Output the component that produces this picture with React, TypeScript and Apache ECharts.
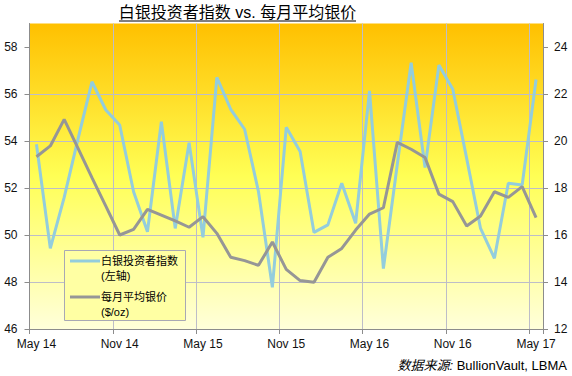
import React, { useEffect, useRef } from "react";
import * as echarts from "echarts";

const categories = [
  "May 14", "Jun 14", "Jul 14", "Aug 14", "Sep 14", "Oct 14",
  "Nov 14", "Dec 14", "Jan 15", "Feb 15", "Mar 15", "Apr 15",
  "May 15", "Jun 15", "Jul 15", "Aug 15", "Sep 15", "Oct 15",
  "Nov 15", "Dec 15", "Jan 16", "Feb 16", "Mar 16", "Apr 16",
  "May 16", "Jun 16", "Jul 16", "Aug 16", "Sep 16", "Oct 16",
  "Nov 16", "Dec 16", "Jan 17", "Feb 17", "Mar 17", "Apr 17",
  "May 17",
];

const investorIndex = [
  53.86, 49.43, 51.6, 54.1, 56.52, 55.32, 54.68, 51.84, 50.14, 54.82,
  50.28, 53.93, 49.9, 56.71, 55.35, 54.5, 51.84, 47.77, 54.58, 53.55,
  50.11, 50.43, 52.2, 50.5, 56.13, 48.57, 53.0, 57.33, 52.87, 57.23,
  56.2, 53.26, 50.28, 49.01, 52.2, 52.13, 56.62,
];

const silverPrice = [
  19.33, 19.79, 20.92, 19.69, 18.44, 17.23, 16.0, 16.24, 17.09, 16.85,
  16.6, 16.33, 16.78, 16.07, 15.05, 14.91, 14.71, 15.7, 14.54, 14.06,
  13.99, 15.05, 15.43, 16.21, 16.89, 17.16, 19.94, 19.65, 19.3, 17.74,
  17.42, 16.38, 16.81, 17.84, 17.6, 18.06, 16.74,
];

const leftTicks = [46, 48, 50, 52, 54, 56, 58];
const rightTicks = [12, 14, 16, 18, 20, 22, 24];

const titleText = "白银投资者指数 vs. 每月平均银价";
const seriesNames = ["白银投资者指数", "每月平均银价"];
const seriesSubNames = ["(左轴)", "($/oz)"];
const sourceCn = "数据来源:";
const sourceEn = " BullionVault, LBMA";

const FONT = "'Liberation Sans', Arial, 'Noto Sans CJK SC', sans-serif";
const BLUE = "#93CDDD";
const GRAY = "#969696";
const GRID = "#BDBDC8";
const AXIS = "#8C8C8C";

export default function App() {
  const ref = useRef<HTMLDivElement>(null);

  useEffect(() => {
    if (!ref.current) return;
    const chart = echarts.init(ref.current, undefined, { renderer: "svg" });

    chart.setOption({
      animation: false,
      backgroundColor: "#ffffff",
      textStyle: { fontFamily: FONT },
      grid: {
        left: 29.5,
        right: 29,
        top: 23.5,
        bottom: 47,
        show: true,
        borderWidth: 0,
        backgroundColor: new echarts.graphic.LinearGradient(0, 0, 0, 1, [
          { offset: 0, color: "#FFC000" },
          { offset: 0.5, color: "#FFFF55" },
          { offset: 1, color: "#FFFFDA" },
        ]),
      },
      xAxis: {
        type: "category",
        data: categories,
        boundaryGap: true,
        axisLine: { show: true, lineStyle: { color: AXIS, width: 1 } },
        axisTick: {
          show: true,
          interval: 5,
          length: 5,
          alignWithLabel: false,
          lineStyle: { color: AXIS },
        },
        axisLabel: {
          interval: 5,
          margin: 9,
          color: "#111",
          fontSize: 12,
          fontFamily: FONT,
        },
        splitLine: {
          show: true,
          interval: 5,
          lineStyle: { color: GRID, width: 1 },
        },
      },
      yAxis: [
        {
          type: "value",
          min: 46,
          max: 59,
          interval: 2,
          position: "left",
          axisLine: { show: true, lineStyle: { color: AXIS } },
          axisTick: {
            show: true,
            length: 5,
            customValues: leftTicks,
            lineStyle: { color: AXIS },
          },
          axisLabel: {
            customValues: leftTicks,
            margin: 12,
            color: "#111",
            fontSize: 12,
            fontFamily: FONT,
          },
          splitLine: {
            show: true,
            showMaxLine: false,
            lineStyle: { color: GRID, width: 1 },
          },
        },
        {
          type: "value",
          min: 12,
          max: 25,
          interval: 2,
          position: "right",
          axisLine: { show: true, lineStyle: { color: AXIS } },
          axisTick: {
            show: true,
            length: 5,
            customValues: rightTicks,
            lineStyle: { color: AXIS },
          },
          axisLabel: {
            customValues: rightTicks,
            margin: 11,
            color: "#111",
            fontSize: 12,
            fontFamily: FONT,
          },
          splitLine: { show: false },
        },
      ],
      series: [
        {
          name: seriesNames[0],
          type: "line",
          yAxisIndex: 0,
          data: investorIndex,
          symbol: "none",
          lineStyle: { color: BLUE, width: 3 },
          itemStyle: { color: BLUE },
          z: 2,
        },
        {
          name: seriesNames[1],
          type: "line",
          yAxisIndex: 1,
          data: silverPrice,
          symbol: "none",
          lineStyle: { color: GRAY, width: 3 },
          itemStyle: { color: GRAY },
          z: 3,
        },
      ],
      graphic: [
        {
          type: "text",
          x: 237.5,
          y: 12,
          style: {
            text: titleText,
            fontSize: 16,
            fontFamily: FONT,
            fill: "#000",
            textAlign: "center",
            textVerticalAlign: "middle",
          },
        },
        {
          type: "line",
          shape: { x1: 119, y1: 21, x2: 356, y2: 21 },
          style: { stroke: "#000", lineWidth: 1 },
        },
        {
          type: "rect",
          shape: { x: 64.5, y: 250.5, width: 121, height: 70 },
          style: { fill: "#FFFFA3", stroke: "#A8A8B4", lineWidth: 1 },
          z: 10,
        },
        {
          type: "line",
          shape: { x1: 70, y1: 261, x2: 100, y2: 261 },
          style: { stroke: BLUE, lineWidth: 3 },
          z: 11,
        },
        {
          type: "text",
          x: 101,
          y: 261,
          style: {
            text: seriesNames[0],
            fontSize: 11,
            fontFamily: FONT,
            fill: "#000",
            textVerticalAlign: "middle",
          },
          z: 11,
        },
        {
          type: "text",
          x: 101,
          y: 276,
          style: {
            text: seriesSubNames[0],
            fontSize: 11,
            fontFamily: FONT,
            fill: "#000",
            textVerticalAlign: "middle",
          },
          z: 11,
        },
        {
          type: "line",
          shape: { x1: 70, y1: 297, x2: 100, y2: 297 },
          style: { stroke: GRAY, lineWidth: 3 },
          z: 11,
        },
        {
          type: "text",
          x: 101,
          y: 297,
          style: {
            text: seriesNames[1],
            fontSize: 11,
            fontFamily: FONT,
            fill: "#000",
            textVerticalAlign: "middle",
          },
          z: 11,
        },
        {
          type: "text",
          x: 101,
          y: 312,
          style: {
            text: seriesSubNames[1],
            fontSize: 11,
            fontFamily: FONT,
            fill: "#000",
            textVerticalAlign: "middle",
          },
          z: 11,
        },
        {
          type: "text",
          x: 567,
          y: 365,
          style: {
            text: "{i|" + sourceCn + "}{n|" + sourceEn + "}",
            textAlign: "right",
            textVerticalAlign: "middle",
            rich: {
              i: {
                fontSize: 13,
                fontStyle: "italic",
                fontFamily: FONT,
                fill: "#000",
                color: "#000",
              },
              n: {
                fontSize: 13,
                fontFamily: FONT,
                fill: "#000",
                color: "#000",
              },
            },
          },
        },
      ],
    });

    return () => {
      chart.dispose();
    };
  }, []);

  return (
    <div
      ref={ref}
      style={{ position: "fixed", left: 0, top: 0, width: 572, height: 376 }}
    />
  );
}
